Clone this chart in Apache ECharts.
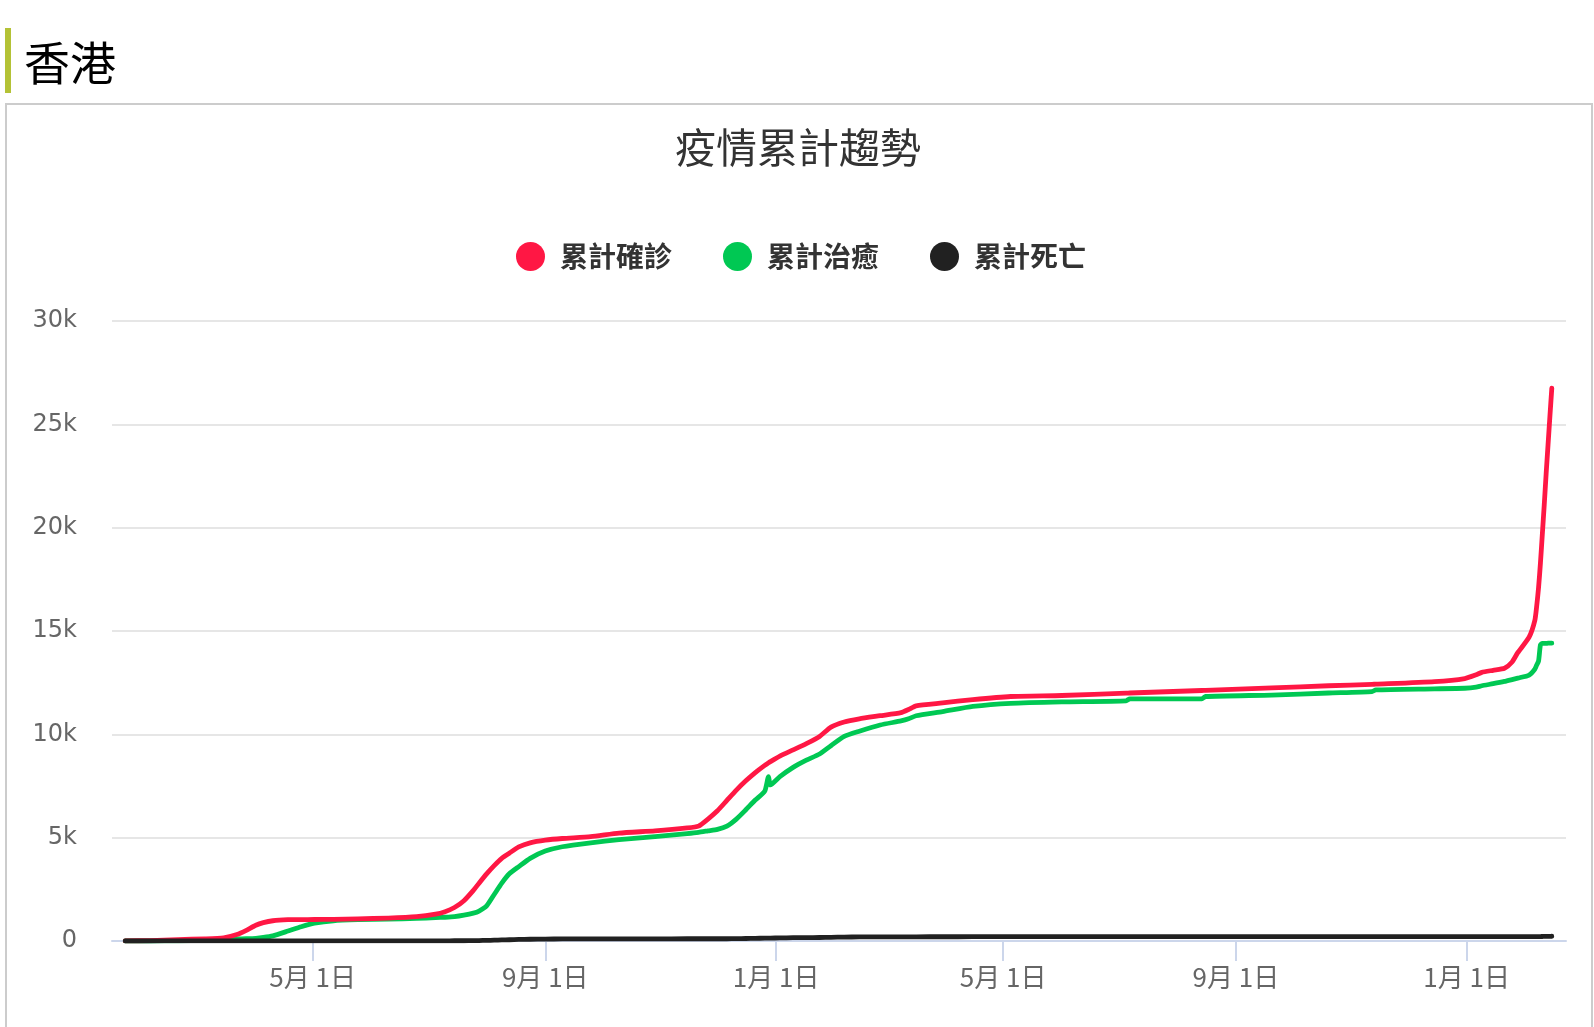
<!DOCTYPE html>
<html>
<head>
<meta charset="utf-8">
<script src="https://cdn.jsdelivr.net/npm/echarts@6/dist/echarts.min.js"></script>
<style>
html,body{margin:0;padding:0;background:#fff;}
#chart{width:1594px;height:1027px;}
</style>
</head>
<body>
<div id="chart"></div>
<script>
const DATES = [
'2020-01-23','2020-02-05','2020-02-20','2020-03-05','2020-03-15','2020-03-22','2020-03-27','2020-04-01','2020-04-05','2020-04-10',
'2020-04-18','2020-04-25','2020-05-02','2020-05-12','2020-05-25','2020-06-10','2020-06-25','2020-07-05','2020-07-10','2020-07-15',
'2020-07-20','2020-07-25','2020-07-28','2020-08-01','2020-08-05','2020-08-09','2020-08-13','2020-08-18','2020-08-24','2020-09-01',
'2020-09-10','2020-09-25','2020-10-10','2020-10-29','2020-11-15','2020-11-21','2020-11-26','2020-12-01','2020-12-06','2020-12-11',
'2020-12-16','2020-12-21','2020-12-26','2020-12-28','2020-12-29','2021-01-03','2021-01-10','2021-01-17','2021-01-24','2021-01-30',
'2021-02-06','2021-02-14','2021-02-25','2021-03-08','2021-03-12','2021-03-16','2021-03-30','2021-04-15','2021-05-05','2021-06-01',
'2021-07-05','2021-07-07','2021-08-14','2021-08-16','2021-09-20','2021-10-20','2021-11-12','2021-11-14','2021-12-15','2021-12-31',
'2022-01-06','2022-01-09','2022-01-15','2022-01-21','2022-01-25','2022-01-28','2022-02-03','2022-02-06','2022-02-07','2022-02-08',
'2022-02-09','2022-02-10','2022-02-11','2022-02-12','2022-02-13','2022-02-14','2022-02-15'
];
const CONFIRMED = [
2,21,68,105,157,317,518,765,890,980,
1030,1038,1040,1050,1070,1110,1180,1300,1420,1620,
1950,2450,2800,3250,3650,4000,4250,4550,4750,4880,
4960,5050,5220,5330,5470,5560,5900,6300,6800,7300,
7750,8150,8500,8620,8680,8950,9250,9550,9900,10350,
10600,10750,10900,11050,11200,11380,11520,11680,11830,11880,
11990,12000,12120,12130,12250,12350,12420,12425,12550,12700,
12880,13000,13100,13200,13500,13950,14700,15500,16200,17100,
18300,19700,21100,22600,24000,25400,26750
];
const RECOVERED = [
0,0,6,40,85,98,110,130,170,250,
480,690,860,980,1030,1060,1090,1130,1150,1180,
1250,1350,1450,1700,2250,2800,3250,3600,4000,4350,
4560,4750,4900,5050,5200,5260,5330,5400,5560,5900,
6350,6820,7250,7950,7550,7950,8400,8750,9050,9450,
9900,10150,10450,10650,10750,10900,11100,11350,11500,11570,
11620,11720,11720,11830,11900,12000,12070,12150,12200,12230,
12280,12350,12450,12560,12650,12720,12870,13150,13350,13550,
14330,14400,14400,14400,14410,14410,14410
];
const DEATHS = [
0,1,2,2,4,4,4,4,4,4,
4,4,4,4,4,4,6,7,7,11,
12,18,22,30,40,50,60,75,85,94,
100,103,105,105,108,108,108,109,110,114,
122,130,138,140,142,150,160,165,170,180,
190,195,200,202,203,204,205,208,210,210,
210,210,212,212,213,213,213,213,213,213,
213,213,213,213,213,213,213,213,214,215,
216,218,220,222,224,226,230
];
const SERIES_NAMES = ['累計確診','累計治癒','累計死亡'];
const X_TICK_DATES = ['2020-05-01','2020-09-01','2021-01-01','2021-05-01','2021-09-01','2022-01-01'];
const Y_TICKS = [0,5000,10000,15000,20000,25000,30000];
const Y_TICK_LABELS = ['0','5k','10k','15k','20k','25k','30k'];
const PAGE_TITLE = '香港';
const CHART_TITLE = '疫情累計趨勢';

function ts(s){const p=s.split('-').map(Number);return new Date(p[0],p[1]-1,p[2]).getTime();}
function pairs(vals){return DATES.map((d,i)=>[ts(d),vals[i]]);}

const chart = echarts.init(document.getElementById('chart'), null, {renderer:'canvas'});
const CJK = '"Noto Sans CJK TC","Noto Sans CJK SC",sans-serif';
const lineCommon = {type:'line',showSymbol:false,symbol:'circle',animation:false,smooth:0.2,
  lineStyle:{width:4.8,cap:'round',join:'round'}};
const xTicks = X_TICK_DATES.map(ts);
chart.setOption({
  animation:false,
  backgroundColor:'#fff',
  color:['#ff1744','#00c853','#212121'],
  graphic:[
    {type:'rect',shape:{x:5,y:28,width:6,height:65},style:{fill:'#b4c236'}},
    {type:'text',x:24,y:63,style:{text:PAGE_TITLE,fontSize:46,fontFamily:CJK,fill:'#000',textVerticalAlign:'middle',textAlign:'left'}},
    {type:'rect',shape:{x:6,y:104,width:1586,height:960},style:{fill:'none',stroke:'#cccccc',lineWidth:2}},
    {type:'text',x:798,y:147,style:{text:CHART_TITLE,fontSize:41,fontFamily:CJK,fill:'#333',textVerticalAlign:'middle',textAlign:'center'}}
  ],
  legend:{
    top:237,left:511,
    icon:'circle',itemWidth:29,itemHeight:29,itemGap:51,
    textStyle:{fontSize:28,fontWeight:'bold',color:'#333',fontFamily:CJK,padding:[0,0,0,10]},
    data:SERIES_NAMES
  },
  grid:{left:112,right:28,top:321,bottom:86,containLabel:false},
  xAxis:{
    type:'value',scale:true,
    min:ts('2020-01-16'),max:ts('2022-02-22')+12*3600*1000,
    axisLine:{show:true,onZero:false,lineStyle:{color:'#ccd6eb',width:2}},
    axisTick:{show:true,length:20,lineStyle:{color:'#ccd6eb',width:2},customValues:xTicks},
    axisLabel:{customValues:xTicks,margin:23,fontSize:26,color:'#666',fontFamily:CJK,
      formatter:function(v){const d=new Date(v);return (d.getMonth()+1)+'月 '+d.getDate()+'日';}},
    splitLine:{show:false}
  },
  yAxis:{
    type:'value',min:Y_TICKS[0],max:Y_TICKS[Y_TICKS.length-1],interval:Y_TICKS[1]-Y_TICKS[0],
    axisLine:{show:false},axisTick:{show:false},
    axisLabel:{margin:35,fontSize:24,color:'#666',fontFamily:'"DejaVu Sans",sans-serif',
      formatter:function(v){const i=Y_TICKS.indexOf(v);return i>=0?Y_TICK_LABELS[i]:'';}},
    splitLine:{lineStyle:{color:'#e6e6e6',width:2}}
  },
  series:[
    Object.assign({},lineCommon,{name:SERIES_NAMES[0],data:pairs(CONFIRMED),z:3}),
    Object.assign({},lineCommon,{name:SERIES_NAMES[1],data:pairs(RECOVERED),z:2}),
    Object.assign({},lineCommon,{name:SERIES_NAMES[2],data:pairs(DEATHS),z:4})
  ]
});
</script>
</body>
</html>
